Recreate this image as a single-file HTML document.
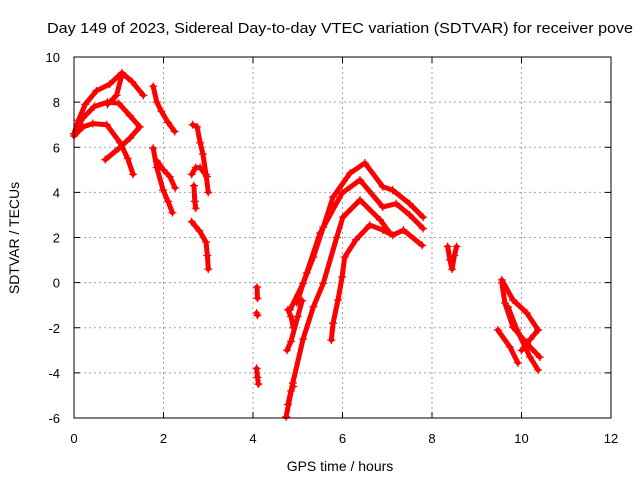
<!DOCTYPE html>
<html><head><meta charset="utf-8"><style>
html,body{margin:0;padding:0;background:#fff;}
svg{display:block;font-family:"Liberation Sans",sans-serif;}
</style></head><body>
<svg id="chart" width="640" height="480" xmlns="http://www.w3.org/2000/svg">
<rect width="640" height="480" fill="#fff"/>
<text x="47" y="33" font-size="15" textLength="586" lengthAdjust="spacingAndGlyphs" fill="#000">Day 149 of 2023, Sidereal Day-to-day VTEC variation (SDTVAR) for receiver pove</text>
<g id="grid"></g>
<g id="ticks"></g>
<g id="series"></g>
<rect x="74" y="57" width="537" height="361" fill="none" stroke="#000" stroke-width="1"/>
<text x="340" y="471" font-size="14" text-anchor="middle">GPS time / hours</text>
<text transform="translate(19,238) rotate(-90)" font-size="14" text-anchor="middle">SDTVAR / TECUs</text>
</svg>
<script>
const xTicks = [0,2,4,6,8,10,12];
const yTicks = [-6,-4,-2,0,2,4,6,8,10];
const track1 = [[0,6.6],[0.1,7.2],[0.25,7.9],[0.5,8.5],[0.8,8.8],[1.07,9.3],[1.3,8.9],[1.55,8.3]];
const track2 = [[0,6.6],[0.2,7.3],[0.45,7.8],[0.75,8.0],[1.0,7.95],[1.25,7.4],[1.47,6.9]];
const track3 = [[0.7,5.45],[1.0,5.95],[1.25,6.4],[1.47,6.9]];
const track4 = [[0,6.5],[0.2,6.9],[0.42,7.05],[0.73,7.0],[1.03,6.2],[1.2,5.5],[1.32,4.8]];
const track5 = [[0.75,7.9],[0.95,8.3],[1.07,9.2]];
const track6 = [[1.77,8.7],[1.85,8.0],[1.95,7.6],[2.1,7.1],[2.25,6.7]];
const track7 = [[1.77,5.96],[1.85,5.1],[1.99,4.1],[2.1,3.6],[2.2,3.1]];
const track8 = [[1.85,5.4],[2.0,5.0],[2.14,4.7],[2.26,4.2]];
const track9 = [[2.65,7.0],[2.75,6.9],[2.82,6.2],[2.88,5.7],[2.95,4.8],[3.0,4.0]];
const track10 = [[2.63,4.8],[2.72,5.1],[2.82,5.1],[2.97,4.7]];
const track11 = [[2.68,4.3],[2.7,3.6],[2.72,3.3]];
const track12 = [[2.63,2.7],[2.8,2.3],[2.95,1.8],[2.98,1.2],[3.0,0.6]];
const track13 = [[4.09,-0.2],[4.1,-0.7]];
const track14 = [[4.08,-1.35],[4.1,-1.45]];
const track15 = [[4.08,-3.8],[4.1,-4.2],[4.12,-4.5]];
const track16 = [[4.83,-1.2],[5.12,-0.03],[5.35,1.13],[5.57,2.46],[5.79,3.8],[6.17,4.85],[6.5,5.3],[6.9,4.25],[7.12,4.1],[7.5,3.5],[7.8,2.9]];
const track17 = [[4.98,-0.9],[5.2,0.43],[5.5,2.2],[5.99,3.97],[6.39,4.55],[6.9,3.35],[7.2,3.5],[7.5,3.0],[7.8,2.4]];
const track18 = [[4.74,-5.95],[4.89,-4.45],[5.12,-2.5],[5.35,-1.07],[5.57,-0.03],[5.87,2.0],[6.01,2.9],[6.39,3.66],[6.84,2.78],[7.06,2.2]];
const track19 = [[5.75,-2.55],[5.79,-1.8],[5.9,-0.77],[5.99,0.25],[6.05,1.13],[6.3,1.9],[6.61,2.55],[6.9,2.33],[7.12,2.1],[7.36,2.33],[7.78,1.65]];
const track20 = [[4.76,-3.0],[4.85,-2.6],[5.0,-1.5],[5.1,-0.8]];
const track21 = [[4.78,-1.2],[4.85,-1.5],[4.9,-2.0]];
const track22 = [[4.78,-5.4],[4.85,-4.8],[4.9,-4.6]];
const track23 = [[8.35,1.6],[8.4,1.0],[8.45,0.6],[8.5,1.2],[8.55,1.6]];
const track24 = [[9.56,0.12],[9.81,-0.77],[10.12,-1.35],[10.37,-2.1]];
const track25 = [[9.56,0.0],[9.63,-0.9],[9.81,-1.97],[10.12,-2.7],[10.41,-3.3]];
const track26 = [[9.47,-2.1],[9.74,-2.85],[9.92,-3.56]];
const track27 = [[9.7,-1.08],[9.9,-2.1],[10.19,-3.3],[10.37,-3.87]];
const track28 = [[10.0,-3.0],[10.2,-2.5],[10.37,-2.1]];
const tracks = [track1,track2,track3,track4,track5,track6,track7,track8,track9,track10,track11,track12,track13,track14,track15,track16,track17,track18,track19,track20,track21,track22,track23,track24,track25,track26,track27,track28];

const X0=74,X1=611,Y0=418,Y1=57,XMIN=0,XMAX=12,YMIN=-6,YMAX=10;
const sx = v => X0 + (v-XMIN)/(XMAX-XMIN)*(X1-X0);
const sy = v => Y0 - (v-YMIN)/(YMAX-YMIN)*(Y0-Y1);
const NS="http://www.w3.org/2000/svg";
function mk(tag, attrs, parent){const e=document.createElementNS(NS,tag);for(const k in attrs)e.setAttribute(k,attrs[k]);parent.appendChild(e);return e;}
const grid=document.getElementById('grid'), ticks=document.getElementById('ticks'), series=document.getElementById('series');
xTicks.forEach(t=>{
  const x=sx(t);
  if(t>XMIN&&t<XMAX){const g=mk('line',{x1:x,x2:x,y1:Y1,y2:Y0,stroke:'#a0a0a0','stroke-dasharray':'2,3'},grid);
  
  }
  mk('line',{x1:x,x2:x,y1:Y0,y2:Y0-6,stroke:'#000'},ticks);
  mk('line',{x1:x,x2:x,y1:Y1,y2:Y1+6,stroke:'#000'},ticks);
  const l=mk('text',{x:x,y:443,'font-size':13,'text-anchor':'middle'},ticks);
  l.textContent=t;
  
  
});
yTicks.forEach(t=>{
  const y=sy(t);
  if(t>YMIN&&t<YMAX){const g=mk('line',{x1:X0,x2:X1,y1:y,y2:y,stroke:'#a0a0a0','stroke-dasharray':'2,3'},grid);
  
  }
  mk('line',{x1:X0,x2:X0+6,y1:y,y2:y,stroke:'#000'},ticks);
  mk('line',{x1:X1,x2:X1-6,y1:y,y2:y,stroke:'#000'},ticks);
  const l=mk('text',{x:60,y:y+5,'font-size':13,'text-anchor':'end'},ticks);
  l.textContent=t;
  
  
});
tracks.forEach((tr,i)=>{
  const pts=tr.map(p=>sx(p[0]).toFixed(1)+','+sy(p[1]).toFixed(1)).join(' ');
  const pl=mk('polyline',{points:pts,fill:'none',stroke:'#ff0000','stroke-width':5,'stroke-linejoin':'round','stroke-linecap':'round'},series);
  
  
  tr.forEach(p=>{
    const x=sx(p[0]),y=sy(p[1]);
    const m=mk('path',{d:`M${x-4},${y}H${x+4}M${x},${y-4}V${y+4}`,stroke:'#ff0000','stroke-width':1.2},series);
    
    
  });
});
</script>
</body></html>
